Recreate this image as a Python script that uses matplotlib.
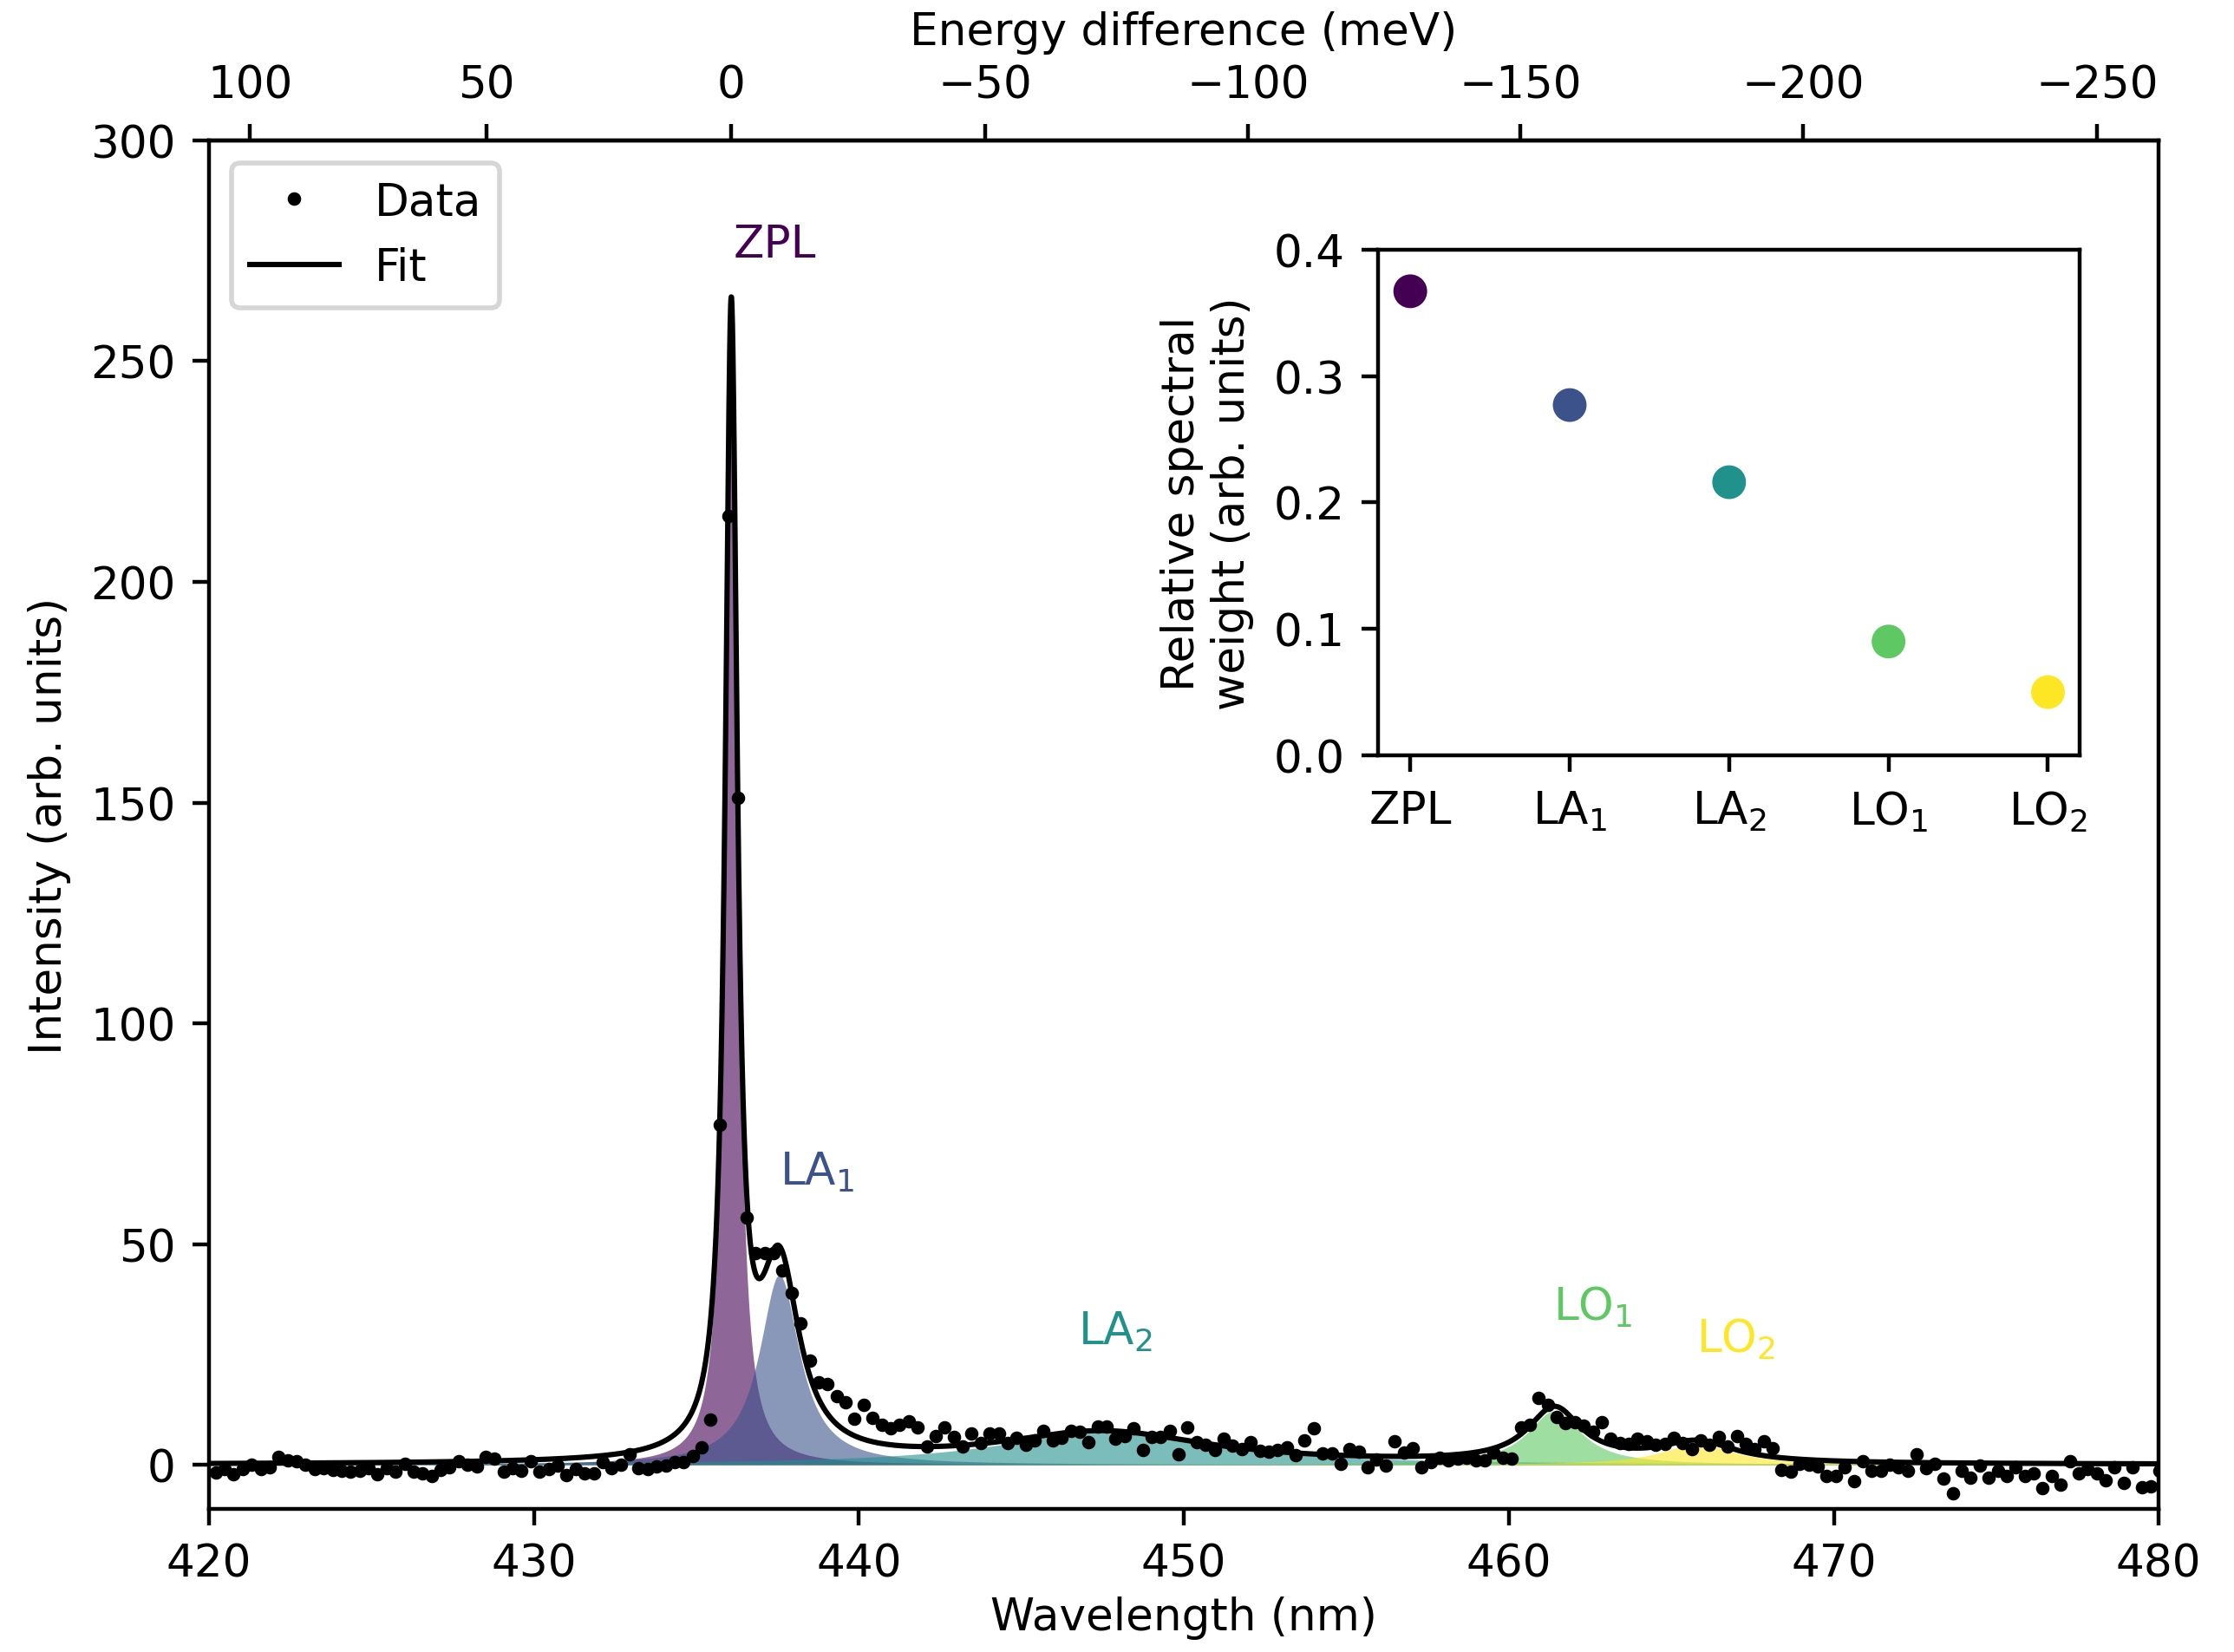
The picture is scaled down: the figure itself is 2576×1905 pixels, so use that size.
import numpy as np
import matplotlib.pyplot as plt

plt.rcParams['font.size'] = 9.3

# measured spectrum (intensity, arb. units), sampled every ~0.277 nm from 420.2 nm
intensity = [
    -1.8, -1.0, -2.2, -1.0, 0.1, -1.0, -0.5, 1.8, 1.0, 0.8, 0.0, -1.0, -0.8, -1.2, -1.3, -1.6, -1.3, -0.7,
    -2.2, -0.7, -1.6, 0.3, -1.6, -2.0, -2.6, -1.2, -0.5, 0.7, 0.0, -0.3, 1.8, 1.3, -1.6, -0.7, -1.3, 0.7,
    -1.6, -0.9, -0.1, -2.3, -0.9, -2.0, -2.0, 0.5, -0.7, 0.1, 2.3, -0.7, -0.9, -0.3, -0.2, 0.5, 0.5, 2.0,
    3.9, 10.2,
    77, 215, 151, 56, 48, 48, 48, 44, 39, 32, 23.5, 18.7, 18.2, 15.6, 14.1, 10.4,
    13.6, 10.6, 9.0, 8.2, 9.0, 9.8, 8.5, 4.1, 6.5, 8.5, 6.2, 4.1, 7.0, 4.9, 7.0, 7.0, 4.9, 6.0,
    4.6, 5.6, 7.7, 5.6, 6.1, 7.7, 7.4, 5.2, 8.6, 8.6, 5.9, 6.5, 8.2, 3.3, 6.2, 6.2, 7.7, 2.3,
    8.5, 5.1, 4.6, 3.4, 5.9, 4.3, 3.6, 5.1, 3.1, 2.9, 3.3, 3.9, 2.1, 5.6, 8.3, 2.6, 2.5, 0.3,
    3.6, 2.9, -0.5, 1.2, -0.1, 5.4, 2.8, 3.8, -0.5, 0.5, 1.6, 1.0, 1.4, 1.6, 1.0, 1.0, 2.8, 1.6,
    1.4, 8.5, 9.0, 15.1, 13.6, 10.9, 9.5, 9.7, 8.8, 7.5, 9.6, 5.9, 4.9, 4.7, 5.9, 5.4, 4.5, 4.7,
    6.1, 4.9, 3.6, 5.6, 4.6, 6.2, 4.1, 6.5, 4.7, 3.6, 5.4, 3.8, -1.2, -1.6, 0.3, 0.1, -0.3, -2.6,
    -2.5, -0.5, -3.7, 0.8, -1.3, -1.4, 0.0, -0.5, -1.3, 2.3, -0.8, 0.3, -3.1, -6.4, -1.4, -2.9,
    -0.2, -2.9, -1.3, -2.5, -0.5, -2.5, -2.0, -5.2, -2.5, -4.6, 0.7, -2.0, -1.0, -2.0, -3.5, -0.5,
    -4.1, -0.5, -5.1, -4.9, -1.3,
]
wl_start = 420.2
wl_step = 0.277

# fitted Lorentzian components
names = ['ZPL', 'LA$_1$', 'LA$_2$', 'LO$_1$', 'LO$_2$']
centers = [436.07, 437.55, 447.5, 461.4, 465.8]
hwhm = [0.22, 0.75, 4.0, 1.0, 1.4]
amps = [255, 43, 7.3, 12.2, 4.6]

# relative spectral weights (inset)
weights = [0.367, 0.277, 0.216, 0.090, 0.050]

# where the peak names are written (nm, intensity)
label_x = [437.4, 438.7, 447.9, 462.6, 467.0]
label_y = [276.5, 66.4, 30.2, 35.7, 28.6]

hc = 1239841.98  # meV nm


def lorentz(x, a, c, g):
    return a / (1 + ((x - c) / g) ** 2)


def nm2mev(x):
    x = np.asarray(x, dtype=float)
    with np.errstate(divide='ignore'):
        return hc / x - hc / centers[0]


def mev2nm(e):
    return hc / (np.asarray(e, dtype=float) + hc / centers[0])


wl = wl_start + wl_step * np.arange(len(intensity))
xf = np.linspace(419, 481, 8000)
cols = plt.cm.viridis(np.linspace(0, 1, len(names)))

fig = plt.figure(figsize=(6.44, 4.765), dpi=400)
ax = fig.add_axes([0.0936, 0.0866, 0.8727, 0.8279])

fit = np.zeros_like(xf)
for a, c, g, col in zip(amps, centers, hwhm, cols):
    comp = lorentz(xf, a, c, g)
    fit += comp
    ax.fill_between(xf, 0, comp, color=col, alpha=0.6, lw=0)

ax.plot(xf, fit, 'k-', lw=1.1, label='Fit')
ax.plot(wl, intensity, 'k.', ms=3.6, label='Data')

for name, lx, ly, col in zip(names, label_x, label_y, cols):
    ax.text(lx, ly, name, color=col, ha='center', va='center')

ax.set_xlim(420, 480)
ax.set_ylim(-10, 300)
ax.set_xticks(np.arange(420, 481, 10))
ax.set_yticks(np.arange(0, 301, 50))
ax.set_xlabel('Wavelength (nm)', labelpad=2)
ax.set_ylabel('Intensity (arb. units)')

handles, labels = ax.get_legend_handles_labels()
ax.legend(handles[::-1], labels[::-1], loc='upper left')

top = ax.secondary_xaxis('top', functions=(nm2mev, mev2nm))
top.set_xticks(np.arange(100, -251, -50))
top.set_xlabel('Energy difference (meV)', labelpad=4)

ins = fig.add_axes([0.617, 0.5425, 0.314, 0.306])
ins.scatter(range(len(names)), weights, c=cols, s=36, zorder=3)
ins.set_xticks(range(len(names)), names)
ins.set_xlim(-0.2, 4.2)
ins.set_ylim(0, 0.4)
ins.set_yticks(np.arange(0, 0.41, 0.1))
ins.set_ylabel('Relative spectral\nweight (arb. units)')

fig.savefig('out.png', dpi=400)
